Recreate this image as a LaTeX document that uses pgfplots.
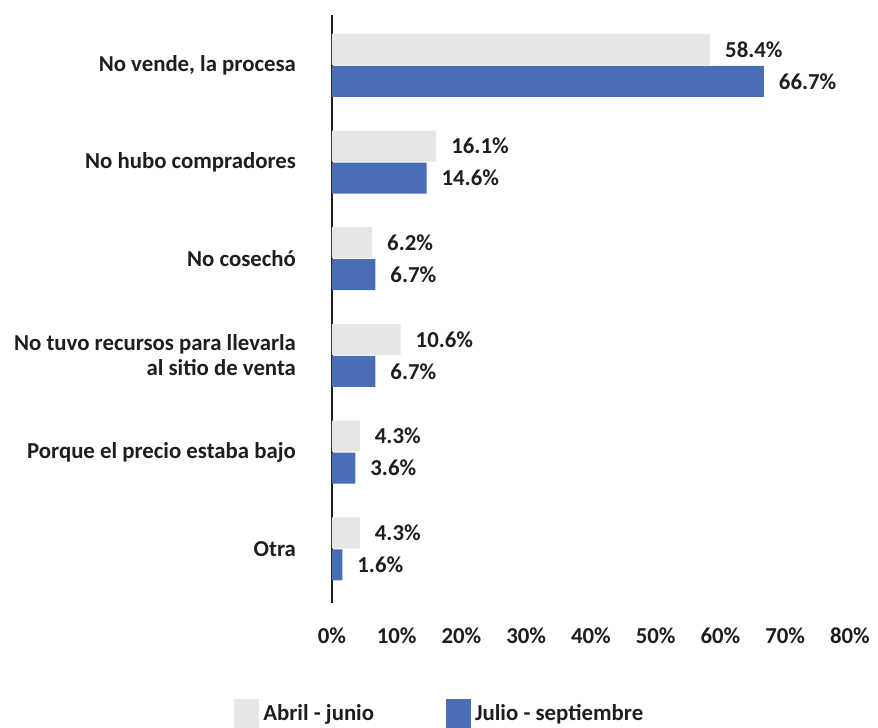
\documentclass[border=0pt]{standalone}
\usepackage{pgfplots}
\pgfplotsset{compat=1.18}
\usepackage{fontspec}
\setmainfont{Carlito}
\usetikzlibrary{calc}
\definecolor{grayb}{HTML}{E7E6E6}
\definecolor{blueb}{HTML}{4A6EB5}
\definecolor{txt}{HTML}{1E1E1E}
\newcommand{\lf}{\fontsize{11.4}{12.5}\selectfont\bfseries}
\begin{document}
\begin{tikzpicture}
\begin{axis}[
  scale only axis,
  width=259pt, height=294pt,
  xmin=0, xmax=80,
  ymin=-0.52, ymax=5.56,
  y dir=reverse,
  xbar, bar width=15.5pt,
  axis lines*=left,
  x axis line style={draw=none},
  y axis line style={draw=txt, line width=1.2pt},
  major tick length=0pt,
  xtick={0,10,...,80},
  xticklabel={\pgfmathprintnumber{\tick}\%},
  /pgf/number format/assume math mode=true,
  xticklabel style={yshift=-9pt},
  ytick={0,1,2,3,4,5},
  yticklabels={{No vende, la procesa},No hubo compradores,No cosechó,{No tuvo recursos para llevarla\\al sitio de venta},Porque el precio estaba bajo,Otra},
  yticklabel style={align=right, xshift=-14.5pt},
  tick label style={font=\lf, text=txt},
  nodes near coords={\pgfmathprintnumber[fixed,precision=1,fixed zerofill]{\pgfplotspointmeta}\%},
  nodes near coords style={font=\lf, text=txt, anchor=west, xshift=4pt},
  legend columns=2,
  legend style={draw=none, fill=none, at={(0.21,-0.155)}, anchor=north, font=\lf, text=txt,
    /tikz/every even column/.append style={column sep=34pt}},
  legend cell align=left,
]
\addplot[fill=grayb, draw=none, bar shift=8pt,
  legend image code/.code={\fill[grayb] (0pt,-7.5pt) rectangle (12.5pt,7.5pt);}]
  coordinates {(58.4,0) (16.1,1) (6.2,2) (10.6,3) (4.3,4) (4.3,5)};
\addlegendentry{Abril - junio}
\addplot[fill=blueb, draw=none, bar shift=-8pt,
  legend image code/.code={\fill[blueb] (0pt,-7.5pt) rectangle (12.5pt,7.5pt);}]
  coordinates {(66.7,0) (14.6,1) (6.7,2) (6.7,3) (3.6,4) (1.6,5)};
\addlegendentry{Julio - septiembre}
\coordinate (BL) at (rel axis cs:0,0);
\end{axis}
\pgfresetboundingbox
\path[use as bounding box] ($(BL)+(-166pt,-62.5pt)$) rectangle ($(BL)+(273pt,301.5pt)$);
\end{tikzpicture}
\end{document}
